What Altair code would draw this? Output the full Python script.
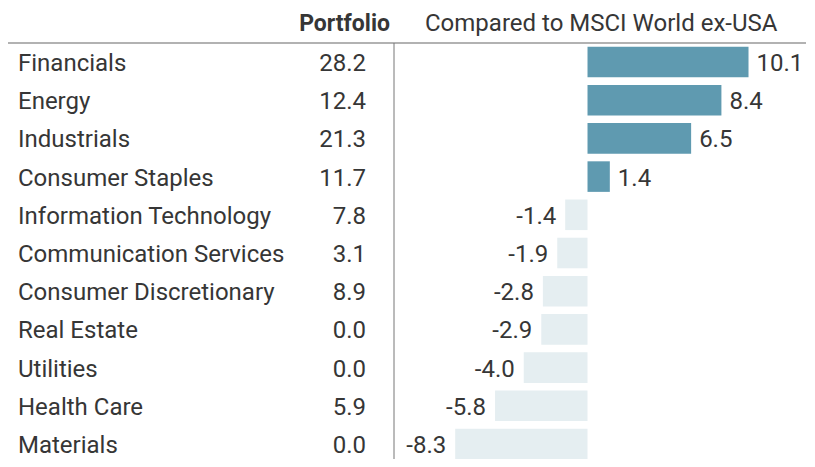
import altair as alt
import pandas as pd

categories = ["Financials", "Energy", "Industrials", "Consumer Staples",
              "Information Technology", "Communication Services",
              "Consumer Discretionary", "Real Estate", "Utilities",
              "Health Care", "Materials"]
portfolio = [28.2, 12.4, 21.3, 11.7, 7.8, 3.1, 8.9, 0.0, 0.0, 5.9, 0.0]
diff = [10.1, 8.4, 6.5, 1.4, -1.4, -1.9, -2.8, -2.9, -4.0, -5.8, -8.3]

df = pd.DataFrame({"cat": categories, "portfolio": portfolio, "diff": diff})

FONT = "Roboto"
TXT = "#363636"
FS = 24

yenc = alt.Y("cat:N", sort=categories,
             scale=alt.Scale(range=[0, 420], paddingInner=0.2, paddingOuter=0.097),
             axis=None)
xscale = alt.Scale(domain=[-10, 12], range=[420.1, 770.8])

base = alt.Chart(df).transform_calculate(
    dlabel="replace(format(datum.diff, '.1f'), '\u2212', '-')"
)

bars = base.mark_bar().encode(
    y=yenc,
    x=alt.X("diff:Q", scale=xscale, axis=None),
    x2=alt.datum(0),
    color=alt.condition("datum.diff > 0", alt.value("#5f9ab0"), alt.value("#e5eef1")),
)

pos_lbl = base.transform_filter("datum.diff > 0").mark_text(
    align="left", baseline="middle", dx=8, dy=2, font=FONT, fontSize=FS, color=TXT
).encode(y=yenc, x=alt.X("diff:Q", scale=xscale, axis=None), text="dlabel:N")

neg_lbl = base.transform_filter("datum.diff <= 0").mark_text(
    align="right", baseline="middle", dx=-9, dy=2, font=FONT, fontSize=FS, color=TXT
).encode(y=yenc, x=alt.X("diff:Q", scale=xscale, axis=None), text="dlabel:N")

names = base.mark_text(
    align="left", baseline="middle", dy=2, font=FONT, fontSize=FS, color=TXT
).encode(y=yenc, x=alt.value(10), text="cat:N")

port = base.mark_text(
    align="right", baseline="middle", dy=2, font=FONT, fontSize=FS, color=TXT
).encode(y=yenc, x=alt.value(358), text=alt.Text("portfolio:Q", format=".1f"))

one = alt.Data(values=[{"a": 1}])

hline = alt.Chart(one).mark_rule(color="#999999", strokeWidth=1.5).encode(
    x=alt.value(0), x2=alt.value(798), y=alt.value(0))
vline = alt.Chart(one).mark_rule(color="#777777", strokeWidth=1).encode(
    x=alt.value(386), y=alt.value(0), y2=alt.value(440))

h1 = alt.Chart(one).mark_text(
    align="right", baseline="alphabetic", font=FONT, fontSize=23, fontWeight="bold", color=TXT
).encode(x=alt.value(382), y=alt.value(-12), text=alt.value("Portfolio"))
h2 = alt.Chart(one).mark_text(
    align="left", baseline="alphabetic", font=FONT, fontSize=24, color=TXT
).encode(x=alt.value(417), y=alt.value(-12), text=alt.value("Compared to MSCI World ex-USA"))

chart = alt.layer(bars, pos_lbl, neg_lbl, names, port, hline, vline, h1, h2).properties(
    width=799, height=416,
    padding={"top": 35, "left": 0, "right": 0, "bottom": 0},
    autosize=alt.AutoSizeParams(type="none"),
).configure_view(stroke=None)

chart.save("out.html", embed_options={"renderer": "svg", "actions": False})
